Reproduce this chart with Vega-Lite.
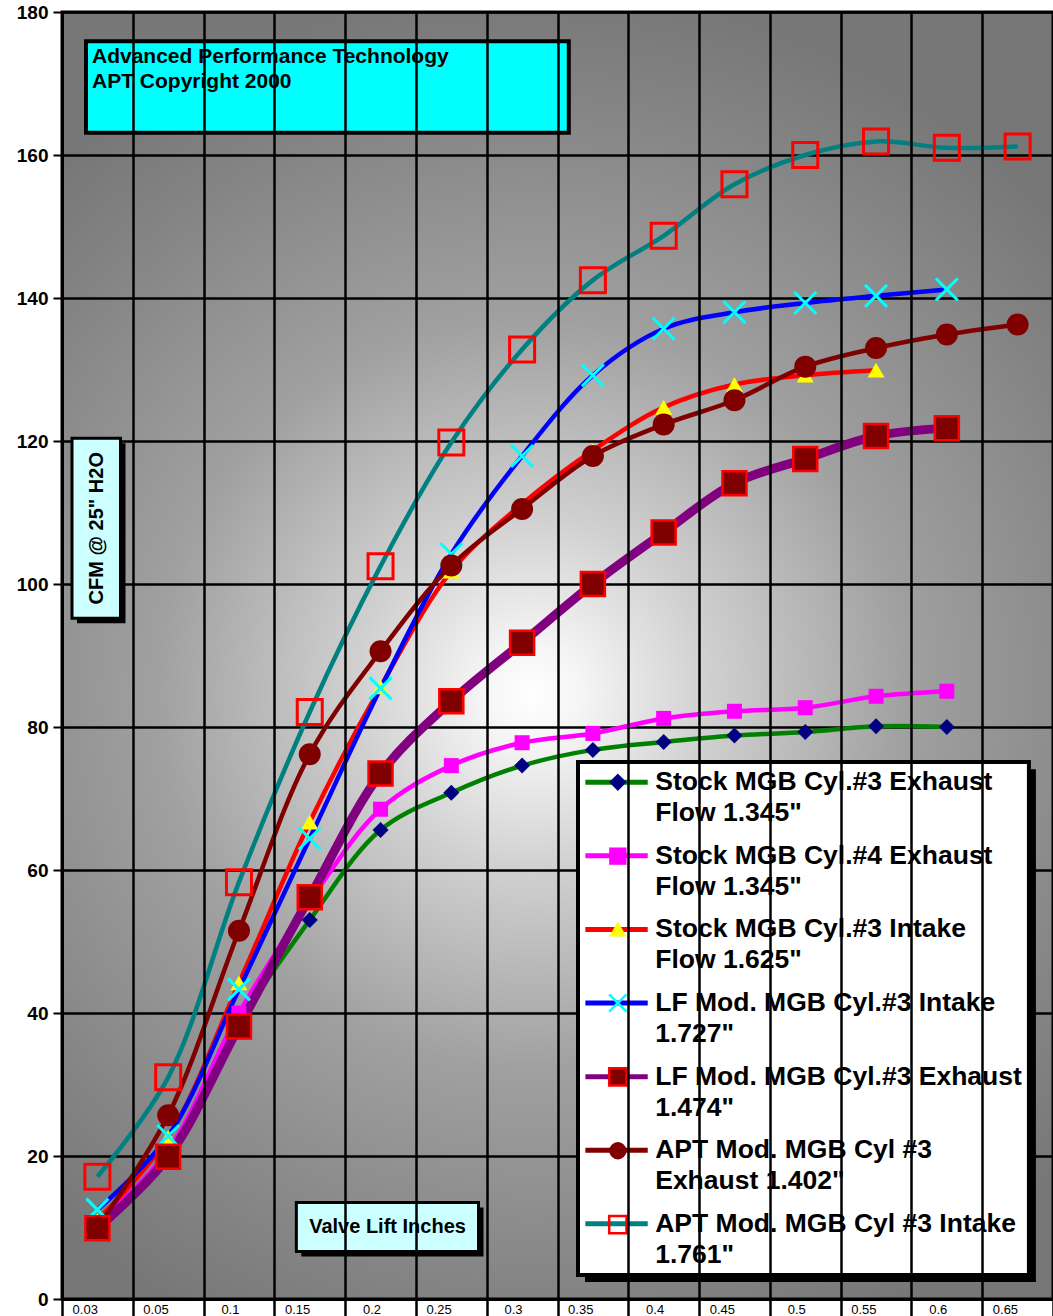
{
  "$schema": "https://vega.github.io/schema/vega-lite/v6.json",
  "width": 991,
  "height": 1287,
  "autosize": {"type": "none"},
  "padding": {"left": 62, "top": 12, "right": 0, "bottom": 17},
  "background": "#ffffff",
  "view": {
    "fill": {"gradient": "radial", "x1": 0.48, "y1": 0.53, "r1": 0, "x2": 0.48, "y2": 0.53, "r2": 0.55,
      "stops": [{"offset": 0, "color": "#ffffff"}, {"offset": 0.07, "color": "#f5f5f5"}, {"offset": 0.25, "color": "#d0d0d0"}, {"offset": 0.53, "color": "#a0a0a0"}, {"offset": 0.84, "color": "#848484"}, {"offset": 1, "color": "#777777"}]},
    "stroke": "#000000",
    "strokeWidth": 3
  },
  "config": {
    "font": "Liberation Sans",
    "axis": {"gridColor": "#000000", "gridOpacity": 1, "gridWidth": 2.5, "tickColor": "#000000", "domainColor": "#000000", "domainWidth": 3, "labelColor": "#000000", "title": null}
  },
  "data": {"values": [
    {"series": "Stock MGB Cyl.#3 Exhaust Flow 1.345\"", "lift": "0.03", "cfm": 10.3},
    {"series": "Stock MGB Cyl.#3 Exhaust Flow 1.345\"", "lift": "0.05", "cfm": 20.3},
    {"series": "Stock MGB Cyl.#3 Exhaust Flow 1.345\"", "lift": "0.1", "cfm": 38.6},
    {"series": "Stock MGB Cyl.#3 Exhaust Flow 1.345\"", "lift": "0.15", "cfm": 53.0},
    {"series": "Stock MGB Cyl.#3 Exhaust Flow 1.345\"", "lift": "0.2", "cfm": 65.6},
    {"series": "Stock MGB Cyl.#3 Exhaust Flow 1.345\"", "lift": "0.25", "cfm": 70.8},
    {"series": "Stock MGB Cyl.#3 Exhaust Flow 1.345\"", "lift": "0.3", "cfm": 74.6},
    {"series": "Stock MGB Cyl.#3 Exhaust Flow 1.345\"", "lift": "0.35", "cfm": 76.8},
    {"series": "Stock MGB Cyl.#3 Exhaust Flow 1.345\"", "lift": "0.4", "cfm": 77.9},
    {"series": "Stock MGB Cyl.#3 Exhaust Flow 1.345\"", "lift": "0.45", "cfm": 78.8},
    {"series": "Stock MGB Cyl.#3 Exhaust Flow 1.345\"", "lift": "0.5", "cfm": 79.3},
    {"series": "Stock MGB Cyl.#3 Exhaust Flow 1.345\"", "lift": "0.55", "cfm": 80.1},
    {"series": "Stock MGB Cyl.#3 Exhaust Flow 1.345\"", "lift": "0.6", "cfm": 80.0},
    {"series": "Stock MGB Cyl.#4 Exhaust Flow 1.345\"", "lift": "0.03", "cfm": 10.6},
    {"series": "Stock MGB Cyl.#4 Exhaust Flow 1.345\"", "lift": "0.05", "cfm": 20.8},
    {"series": "Stock MGB Cyl.#4 Exhaust Flow 1.345\"", "lift": "0.1", "cfm": 40.0},
    {"series": "Stock MGB Cyl.#4 Exhaust Flow 1.345\"", "lift": "0.15", "cfm": 55.6},
    {"series": "Stock MGB Cyl.#4 Exhaust Flow 1.345\"", "lift": "0.2", "cfm": 68.5},
    {"series": "Stock MGB Cyl.#4 Exhaust Flow 1.345\"", "lift": "0.25", "cfm": 74.6},
    {"series": "Stock MGB Cyl.#4 Exhaust Flow 1.345\"", "lift": "0.3", "cfm": 77.8},
    {"series": "Stock MGB Cyl.#4 Exhaust Flow 1.345\"", "lift": "0.35", "cfm": 79.1},
    {"series": "Stock MGB Cyl.#4 Exhaust Flow 1.345\"", "lift": "0.4", "cfm": 81.2},
    {"series": "Stock MGB Cyl.#4 Exhaust Flow 1.345\"", "lift": "0.45", "cfm": 82.2},
    {"series": "Stock MGB Cyl.#4 Exhaust Flow 1.345\"", "lift": "0.5", "cfm": 82.7},
    {"series": "Stock MGB Cyl.#4 Exhaust Flow 1.345\"", "lift": "0.55", "cfm": 84.3},
    {"series": "Stock MGB Cyl.#4 Exhaust Flow 1.345\"", "lift": "0.6", "cfm": 85.0},
    {"series": "Stock MGB Cyl.#3 Intake Flow 1.625\"", "lift": "0.03", "cfm": 11.0},
    {"series": "Stock MGB Cyl.#3 Intake Flow 1.625\"", "lift": "0.05", "cfm": 22.6},
    {"series": "Stock MGB Cyl.#3 Intake Flow 1.625\"", "lift": "0.1", "cfm": 44.2},
    {"series": "Stock MGB Cyl.#3 Intake Flow 1.625\"", "lift": "0.15", "cfm": 66.7},
    {"series": "Stock MGB Cyl.#3 Intake Flow 1.625\"", "lift": "0.2", "cfm": 85.6},
    {"series": "Stock MGB Cyl.#3 Intake Flow 1.625\"", "lift": "0.25", "cfm": 101.8},
    {"series": "Stock MGB Cyl.#3 Intake Flow 1.625\"", "lift": "0.3", "cfm": 111.2},
    {"series": "Stock MGB Cyl.#3 Intake Flow 1.625\"", "lift": "0.35", "cfm": 118.7},
    {"series": "Stock MGB Cyl.#3 Intake Flow 1.625\"", "lift": "0.4", "cfm": 124.7},
    {"series": "Stock MGB Cyl.#3 Intake Flow 1.625\"", "lift": "0.45", "cfm": 127.9},
    {"series": "Stock MGB Cyl.#3 Intake Flow 1.625\"", "lift": "0.5", "cfm": 129.2},
    {"series": "Stock MGB Cyl.#3 Intake Flow 1.625\"", "lift": "0.55", "cfm": 129.9},
    {"series": "LF Mod. MGB Cyl.#3 Intake 1.727\"", "lift": "0.03", "cfm": 12.5},
    {"series": "LF Mod. MGB Cyl.#3 Intake 1.727\"", "lift": "0.05", "cfm": 22.8},
    {"series": "LF Mod. MGB Cyl.#3 Intake 1.727\"", "lift": "0.1", "cfm": 43.3},
    {"series": "LF Mod. MGB Cyl.#3 Intake 1.727\"", "lift": "0.15", "cfm": 64.4},
    {"series": "LF Mod. MGB Cyl.#3 Intake 1.727\"", "lift": "0.2", "cfm": 85.4},
    {"series": "LF Mod. MGB Cyl.#3 Intake 1.727\"", "lift": "0.25", "cfm": 104.2},
    {"series": "LF Mod. MGB Cyl.#3 Intake 1.727\"", "lift": "0.3", "cfm": 117.9},
    {"series": "LF Mod. MGB Cyl.#3 Intake 1.727\"", "lift": "0.35", "cfm": 129.2},
    {"series": "LF Mod. MGB Cyl.#3 Intake 1.727\"", "lift": "0.4", "cfm": 135.7},
    {"series": "LF Mod. MGB Cyl.#3 Intake 1.727\"", "lift": "0.45", "cfm": 138.0},
    {"series": "LF Mod. MGB Cyl.#3 Intake 1.727\"", "lift": "0.5", "cfm": 139.3},
    {"series": "LF Mod. MGB Cyl.#3 Intake 1.727\"", "lift": "0.55", "cfm": 140.3},
    {"series": "LF Mod. MGB Cyl.#3 Intake 1.727\"", "lift": "0.6", "cfm": 141.2},
    {"series": "LF Mod. MGB Cyl.#3 Exhaust 1.474\"", "lift": "0.03", "cfm": 9.9},
    {"series": "LF Mod. MGB Cyl.#3 Exhaust 1.474\"", "lift": "0.05", "cfm": 19.9},
    {"series": "LF Mod. MGB Cyl.#3 Exhaust 1.474\"", "lift": "0.1", "cfm": 38.1},
    {"series": "LF Mod. MGB Cyl.#3 Exhaust 1.474\"", "lift": "0.15", "cfm": 56.2},
    {"series": "LF Mod. MGB Cyl.#3 Exhaust 1.474\"", "lift": "0.2", "cfm": 73.5},
    {"series": "LF Mod. MGB Cyl.#3 Exhaust 1.474\"", "lift": "0.25", "cfm": 83.6},
    {"series": "LF Mod. MGB Cyl.#3 Exhaust 1.474\"", "lift": "0.3", "cfm": 91.8},
    {"series": "LF Mod. MGB Cyl.#3 Exhaust 1.474\"", "lift": "0.35", "cfm": 100.0},
    {"series": "LF Mod. MGB Cyl.#3 Exhaust 1.474\"", "lift": "0.4", "cfm": 107.2},
    {"series": "LF Mod. MGB Cyl.#3 Exhaust 1.474\"", "lift": "0.45", "cfm": 114.1},
    {"series": "LF Mod. MGB Cyl.#3 Exhaust 1.474\"", "lift": "0.5", "cfm": 117.5},
    {"series": "LF Mod. MGB Cyl.#3 Exhaust 1.474\"", "lift": "0.55", "cfm": 120.7},
    {"series": "LF Mod. MGB Cyl.#3 Exhaust 1.474\"", "lift": "0.6", "cfm": 121.8},
    {"series": "APT Mod. MGB Cyl #3 Exhaust 1.402\"", "lift": "0.03", "cfm": 10.0},
    {"series": "APT Mod. MGB Cyl #3 Exhaust 1.402\"", "lift": "0.05", "cfm": 25.7},
    {"series": "APT Mod. MGB Cyl #3 Exhaust 1.402\"", "lift": "0.1", "cfm": 51.5},
    {"series": "APT Mod. MGB Cyl #3 Exhaust 1.402\"", "lift": "0.15", "cfm": 76.2},
    {"series": "APT Mod. MGB Cyl #3 Exhaust 1.402\"", "lift": "0.2", "cfm": 90.6},
    {"series": "APT Mod. MGB Cyl #3 Exhaust 1.402\"", "lift": "0.25", "cfm": 102.6},
    {"series": "APT Mod. MGB Cyl #3 Exhaust 1.402\"", "lift": "0.3", "cfm": 110.5},
    {"series": "APT Mod. MGB Cyl #3 Exhaust 1.402\"", "lift": "0.35", "cfm": 117.9},
    {"series": "APT Mod. MGB Cyl #3 Exhaust 1.402\"", "lift": "0.4", "cfm": 122.3},
    {"series": "APT Mod. MGB Cyl #3 Exhaust 1.402\"", "lift": "0.45", "cfm": 125.7},
    {"series": "APT Mod. MGB Cyl #3 Exhaust 1.402\"", "lift": "0.5", "cfm": 130.4},
    {"series": "APT Mod. MGB Cyl #3 Exhaust 1.402\"", "lift": "0.55", "cfm": 133.0},
    {"series": "APT Mod. MGB Cyl #3 Exhaust 1.402\"", "lift": "0.6", "cfm": 134.9},
    {"series": "APT Mod. MGB Cyl #3 Exhaust 1.402\"", "lift": "0.65", "cfm": 136.3},
    {"series": "APT Mod. MGB Cyl #3 Intake 1.761\"", "lift": "0.03", "cfm": 17.1},
    {"series": "APT Mod. MGB Cyl #3 Intake 1.761\"", "lift": "0.05", "cfm": 31.0},
    {"series": "APT Mod. MGB Cyl #3 Intake 1.761\"", "lift": "0.1", "cfm": 58.3},
    {"series": "APT Mod. MGB Cyl #3 Intake 1.761\"", "lift": "0.15", "cfm": 82.1},
    {"series": "APT Mod. MGB Cyl #3 Intake 1.761\"", "lift": "0.2", "cfm": 102.5},
    {"series": "APT Mod. MGB Cyl #3 Intake 1.761\"", "lift": "0.25", "cfm": 119.8},
    {"series": "APT Mod. MGB Cyl #3 Intake 1.761\"", "lift": "0.3", "cfm": 132.8},
    {"series": "APT Mod. MGB Cyl #3 Intake 1.761\"", "lift": "0.35", "cfm": 142.5},
    {"series": "APT Mod. MGB Cyl #3 Intake 1.761\"", "lift": "0.4", "cfm": 148.7},
    {"series": "APT Mod. MGB Cyl #3 Intake 1.761\"", "lift": "0.45", "cfm": 155.9},
    {"series": "APT Mod. MGB Cyl #3 Intake 1.761\"", "lift": "0.5", "cfm": 160.0},
    {"series": "APT Mod. MGB Cyl #3 Intake 1.761\"", "lift": "0.55", "cfm": 161.9},
    {"series": "APT Mod. MGB Cyl #3 Intake 1.761\"", "lift": "0.6", "cfm": 161.0},
    {"series": "APT Mod. MGB Cyl #3 Intake 1.761\"", "lift": "0.65", "cfm": 161.2}
  ]},
  "layer": [
    {
      "data": {"values": [{}]},
      "mark": {"type": "rect", "fill": "#00ffff", "stroke": "#000000", "strokeWidth": 4, "xOffset": 24, "x2Offset": -24.1},
      "encoding": {
        "x": {"datum": "0.03", "type": "ordinal", "bandPosition": 0},
        "x2": {"datum": "0.35"},
        "y": {"datum": 175.9, "type": "quantitative"},
        "y2": {"datum": 163.1}
      }
    },
    {
      "data": {"values": [{}]},
      "mark": {"type": "text", "text": ["Advanced Performance Technology", "APT Copyright 2000"], "align": "left", "baseline": "middle", "fontSize": 21, "fontWeight": "bold", "lineHeight": 25, "color": "#000000", "xOffset": 30},
      "encoding": {
        "x": {"datum": "0.03", "type": "ordinal", "bandPosition": 0},
        "y": {"datum": 173.7, "type": "quantitative"}
      }
    },
    {
      "data": {"values": [{}]},
      "mark": {"type": "rect", "fill": "#000000", "xOffset": 15, "x2Offset": 28.1},
      "encoding": {
        "x": {"datum": "0.03", "type": "ordinal", "bandPosition": 0},
        "x2": {"datum": "0.03"},
        "y": {"datum": 119.7, "type": "quantitative"},
        "y2": {"datum": 94.5}
      }
    },
    {
      "data": {"values": [{}]},
      "mark": {"type": "rect", "fill": "#ccffff", "stroke": "#000000", "strokeWidth": 3, "xOffset": 10, "x2Offset": 23.1},
      "encoding": {
        "x": {"datum": "0.03", "type": "ordinal", "bandPosition": 0},
        "x2": {"datum": "0.03"},
        "y": {"datum": 120.4, "type": "quantitative"},
        "y2": {"datum": 95.2}
      }
    },
    {
      "data": {"values": [{}]},
      "mark": {"type": "text", "text": "CFM  @ 25\" H2O", "angle": 270, "align": "center", "baseline": "middle", "fontSize": 20, "fontWeight": "bold", "color": "#000000"},
      "encoding": {
        "x": {"datum": "0.03", "type": "ordinal", "bandPosition": 0.5},
        "y": {"datum": 107.8, "type": "quantitative"}
      }
    },
    {
      "data": {"values": [{}]},
      "mark": {"type": "rect", "fill": "#000000", "xOffset": 27, "x2Offset": -38.6},
      "encoding": {
        "x": {"datum": "0.15", "type": "ordinal", "bandPosition": 0},
        "x2": {"datum": "0.3"},
        "y": {"datum": 12.8, "type": "quantitative"},
        "y2": {"datum": 5.94}
      }
    },
    {
      "data": {"values": [{}]},
      "mark": {"type": "rect", "fill": "#ccffff", "stroke": "#000000", "strokeWidth": 3, "xOffset": 22, "x2Offset": -43.6},
      "encoding": {
        "x": {"datum": "0.15", "type": "ordinal", "bandPosition": 0},
        "x2": {"datum": "0.3"},
        "y": {"datum": 13.5, "type": "quantitative"},
        "y2": {"datum": 6.64}
      }
    },
    {
      "data": {"values": [{}]},
      "mark": {"type": "text", "text": "Valve Lift Inches", "align": "center", "baseline": "middle", "fontSize": 20, "fontWeight": "bold", "color": "#000000", "xOffset": 7},
      "encoding": {
        "x": {"datum": "0.2", "type": "ordinal", "bandPosition": 0.5},
        "y": {"datum": 10.07, "type": "quantitative"}
      }
    },
    {
      "data": {"values": [{}]},
      "mark": {"type": "rect", "fill": "#000000", "xOffset": 27.5, "x2Offset": 18.3},
      "encoding": {
        "x": {"datum": "0.35", "type": "ordinal", "bandPosition": 0},
        "x2": {"datum": "0.65"},
        "y": {"datum": 74.1, "type": "quantitative"},
        "y2": {"datum": 2.38}
      }
    },
    {
      "data": {"values": [{}]},
      "mark": {"type": "rect", "fill": "#ffffff", "stroke": "#000000", "strokeWidth": 4, "xOffset": 20.5, "x2Offset": 11.3},
      "encoding": {
        "x": {"datum": "0.35", "type": "ordinal", "bandPosition": 0},
        "x2": {"datum": "0.65"},
        "y": {"datum": 75.1, "type": "quantitative"},
        "y2": {"datum": 3.36}
      }
    },
    {
      "mark": {"type": "line", "interpolate": "catmull-rom", "strokeJoin": "round", "strokeCap": "butt"},
      "encoding": {
        "x": {"field": "lift", "type": "ordinal",
          "scale": {"type": "band", "domain": ["0.03", "0.05", "0.1", "0.15", "0.2", "0.25", "0.3", "0.35", "0.4", "0.45", "0.5", "0.55", "0.6", "0.65"], "paddingInner": 0, "paddingOuter": 0},
          "axis": {"tickBand": "extent", "tickSize": 20, "tickWidth": 2.5, "labelAngle": 0, "labelFontSize": 13, "labelFontWeight": "normal", "labelPadding": -16, "labelBaseline": "top", "grid": true, "domain": true}},
        "y": {"field": "cfm", "type": "quantitative",
          "scale": {"domain": [0, 180], "nice": false},
          "axis": {"values": [0, 20, 40, 60, 80, 100, 120, 140, 160, 180], "labelFontSize": 19, "labelFontWeight": "bold", "labelPadding": 5, "tickSize": 9, "tickWidth": 2, "grid": true, "domain": true}},
        "stroke": {"field": "series", "type": "nominal",
          "scale": {"domain": ["Stock MGB Cyl.#3 Exhaust Flow 1.345\"", "Stock MGB Cyl.#4 Exhaust Flow 1.345\"", "Stock MGB Cyl.#3 Intake Flow 1.625\"", "LF Mod. MGB Cyl.#3 Intake 1.727\"", "LF Mod. MGB Cyl.#3 Exhaust 1.474\"", "APT Mod. MGB Cyl #3 Exhaust 1.402\"", "APT Mod. MGB Cyl #3 Intake 1.761\""],
            "range": ["#008000", "#ff00ff", "#ff0000", "#0000ff", "#800080", "#800000", "#008080"]},
          "legend": {"orient": "none", "legendX": 541.3, "legendY": 757, "title": null, "symbolType": "M-3.6,0H3.6", "symbolSize": 300, "symbolStrokeWidth": 5, "labelFontSize": 26.5, "labelFontWeight": "bold", "labelColor": "#000000", "labelLimit": 1000, "labelOffset": 25.4, "padding": 0, "rowPadding": 15.6,
            "labelExpr": "split(replace(datum.label, regexp('^(.{1,26}) '), '$1|'), '|')",
            "encode": {"labels": {"update": {"lineHeight": {"value": 31}}}}}},
        "strokeWidth": {"condition": {"test": "datum.series == 'LF Mod. MGB Cyl.#3 Exhaust 1.474\"'", "value": 9}, "value": 4.5}
      }
    },
    {
      "mark": {"type": "point", "filled": true, "opacity": 1},
      "encoding": {
        "x": {"field": "lift", "type": "ordinal"},
        "y": {"field": "cfm", "type": "quantitative"},
        "fill": {"field": "series", "type": "nominal",
          "scale": {"domain": ["APT Mod. MGB Cyl #3 Intake 1.761\"", "APT Mod. MGB Cyl #3 Exhaust 1.402\"", "LF Mod. MGB Cyl.#3 Exhaust 1.474\"", "LF Mod. MGB Cyl.#3 Intake 1.727\"", "Stock MGB Cyl.#3 Intake Flow 1.625\"", "Stock MGB Cyl.#4 Exhaust Flow 1.345\"", "Stock MGB Cyl.#3 Exhaust Flow 1.345\""],
            "range": ["transparent", "#800000", "#800000", "transparent", "#ffff00", "#ff00ff", "#000080"]},
          "legend": {"orient": "none", "legendX": 542.6, "legendY": 757, "title": null, "values": ["Stock MGB Cyl.#3 Exhaust Flow 1.345\"", "Stock MGB Cyl.#4 Exhaust Flow 1.345\"", "Stock MGB Cyl.#3 Intake Flow 1.625\"", "LF Mod. MGB Cyl.#3 Intake 1.727\"", "LF Mod. MGB Cyl.#3 Exhaust 1.474\"", "APT Mod. MGB Cyl #3 Exhaust 1.402\"", "APT Mod. MGB Cyl #3 Intake 1.761\""], "symbolSize": 300, "symbolStrokeWidth": 2.5, "symbolOpacity": 1, "labelFontSize": 26.5, "labelLimit": 1000, "labelOffset": 5, "padding": 0, "rowPadding": 45.9,
            "labelExpr": "''"}},
        "stroke": {"field": "series", "type": "nominal",
          "scale": {"domain": ["APT Mod. MGB Cyl #3 Intake 1.761\"", "APT Mod. MGB Cyl #3 Exhaust 1.402\"", "LF Mod. MGB Cyl.#3 Exhaust 1.474\"", "LF Mod. MGB Cyl.#3 Intake 1.727\"", "Stock MGB Cyl.#3 Intake Flow 1.625\"", "Stock MGB Cyl.#4 Exhaust Flow 1.345\"", "Stock MGB Cyl.#3 Exhaust Flow 1.345\""],
            "range": ["#ff0000", "transparent", "#ff0000", "#00ffff", "transparent", "transparent", "transparent"]},
          "legend": {"orient": "none", "legendX": 542.6, "legendY": 757, "title": null, "values": ["Stock MGB Cyl.#3 Exhaust Flow 1.345\"", "Stock MGB Cyl.#4 Exhaust Flow 1.345\"", "Stock MGB Cyl.#3 Intake Flow 1.625\"", "LF Mod. MGB Cyl.#3 Intake 1.727\"", "LF Mod. MGB Cyl.#3 Exhaust 1.474\"", "APT Mod. MGB Cyl #3 Exhaust 1.402\"", "APT Mod. MGB Cyl #3 Intake 1.761\""], "symbolSize": 300, "symbolStrokeWidth": 2.5, "labelFontSize": 26.5, "labelLimit": 1000, "labelOffset": 5, "padding": 0, "rowPadding": 45.9,
            "labelExpr": "''"}},
        "shape": {"field": "series", "type": "nominal",
          "scale": {"domain": ["APT Mod. MGB Cyl #3 Intake 1.761\"", "APT Mod. MGB Cyl #3 Exhaust 1.402\"", "LF Mod. MGB Cyl.#3 Exhaust 1.474\"", "LF Mod. MGB Cyl.#3 Intake 1.727\"", "Stock MGB Cyl.#3 Intake Flow 1.625\"", "Stock MGB Cyl.#4 Exhaust Flow 1.345\"", "Stock MGB Cyl.#3 Exhaust Flow 1.345\""],
            "range": ["square", "circle", "square", "M-1,-1L1,1M-1,1L1,-1", "triangle-up", "square", "diamond"]},
          "legend": {"orient": "none", "legendX": 542.6, "legendY": 757, "title": null, "values": ["Stock MGB Cyl.#3 Exhaust Flow 1.345\"", "Stock MGB Cyl.#4 Exhaust Flow 1.345\"", "Stock MGB Cyl.#3 Intake Flow 1.625\"", "LF Mod. MGB Cyl.#3 Intake 1.727\"", "LF Mod. MGB Cyl.#3 Exhaust 1.474\"", "APT Mod. MGB Cyl #3 Exhaust 1.402\"", "APT Mod. MGB Cyl #3 Intake 1.761\""], "symbolSize": 300, "symbolStrokeWidth": 2.5, "labelFontSize": 26.5, "labelLimit": 1000, "labelOffset": 5, "padding": 0, "rowPadding": 45.9,
            "labelExpr": "''"}},
        "size": {"condition": [
          {"test": "datum.series == 'LF Mod. MGB Cyl.#3 Exhaust 1.474\"'", "value": 576},
          {"test": "datum.series == 'APT Mod. MGB Cyl #3 Intake 1.761\"'", "value": 625},
          {"test": "datum.series == 'APT Mod. MGB Cyl #3 Exhaust 1.402\"'", "value": 484},
          {"test": "datum.series == 'LF Mod. MGB Cyl.#3 Intake 1.727\"'", "value": 484},
          {"test": "datum.series == 'Stock MGB Cyl.#3 Intake Flow 1.625\"'", "value": 289},
          {"test": "datum.series == 'Stock MGB Cyl.#4 Exhaust Flow 1.345\"'", "value": 225}], "value": 256},
        "strokeWidth": {"condition": [
          {"test": "datum.series == 'LF Mod. MGB Cyl.#3 Intake 1.727\"'", "value": 3},
          {"test": "datum.series == 'APT Mod. MGB Cyl #3 Intake 1.761\"'", "value": 3}], "value": 2.5}
      }
    }
  ],
  "resolve": {
    "scale": {"stroke": "independent", "fill": "independent", "shape": "independent"},
    "legend": {"stroke": "independent", "fill": "independent", "shape": "independent"}
  }
}
